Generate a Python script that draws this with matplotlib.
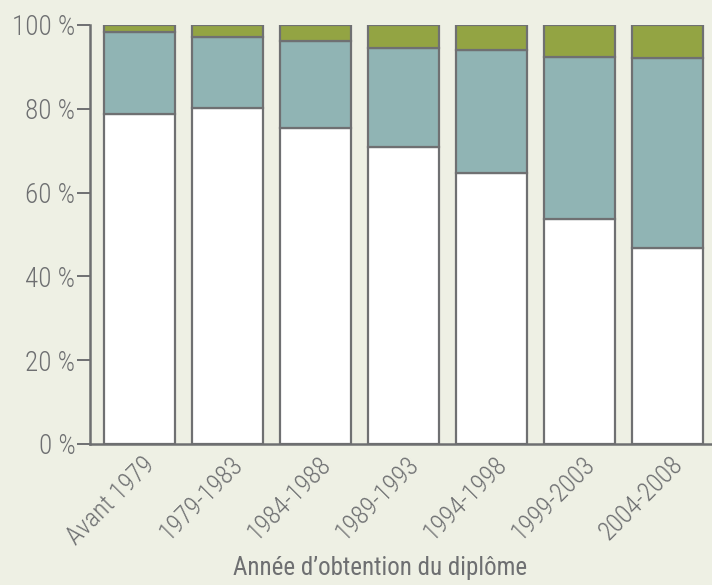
import matplotlib
matplotlib.use("Agg")
import matplotlib.pyplot as plt
import matplotlib.transforms as mtransforms
import numpy as np

# data (percent)
categories = ["Avant 1979", "1979-1983", "1984-1988", "1989-1993",
              "1994-1998", "1999-2003", "2004-2008"]
white_part = [78.8, 80.1, 75.4, 70.9, 64.7, 53.7, 46.8]
teal_part = [19.5, 17.1, 20.8, 23.6, 29.3, 38.7, 45.3]
green_part = [100 - w - t for w, t in zip(white_part, teal_part)]
yticks = [0, 20, 40, 60, 80, 100]
ytick_labels = ["%d %%" % v for v in yticks]

bg = "#eef0e4"
grey = "#6e6f71"

plt.rcParams['font.family'] = ['Roboto Condensed', 'DejaVu Sans']
plt.rcParams['font.weight'] = 'light'

fig = plt.figure(figsize=(7.12, 5.85), dpi=100, facecolor=bg)
ax = fig.add_axes([90 / 712, 1 - 444 / 585, 1 - 90 / 712, (444 - 25) / 585])
ax.set_facecolor("none")

x = np.arange(len(categories))
kw = dict(width=0.8, edgecolor="#6f7072", linewidth=1.6)
ax.bar(x, white_part, color="white", **kw)
ax.bar(x, teal_part, bottom=white_part, color="#90b4b4", **kw)
bottom2 = [w + t for w, t in zip(white_part, teal_part)]
ax.bar(x, green_part, bottom=bottom2, color="#93a443", **kw)

ax.set_xlim(-0.5625, 6.506)
ax.set_ylim(0, 100)
ax.set_yticks(yticks)
ax.set_yticklabels(ytick_labels, fontsize=19.5, color=grey)
ax.set_xticks(x)
ax.set_xticklabels(categories, rotation=45, ha="right", va="top",
                   rotation_mode="anchor", fontsize=18.5, color=grey)
ax.tick_params(axis="y", length=9.5, width=1.4, color=grey, pad=1)
ax.tick_params(axis="x", length=0, pad=6)
offset = mtransforms.ScaledTranslation(3 / 100, 0, fig.dpi_scale_trans)
for lbl in ax.get_xticklabels():
    lbl.set_transform(lbl.get_transform() + offset)

for s in ["top", "right"]:
    ax.spines[s].set_visible(False)
for s in ["left", "bottom"]:
    ax.spines[s].set_color(grey)
    ax.spines[s].set_linewidth(1.8)

ax.set_xlabel("Année d\u2019obtention du diplôme", fontsize=18, color=grey)
ax.xaxis.set_label_coords((380 - 90) / (712 - 90), -0.268)

fig.savefig("out.png", dpi=100, facecolor=bg)
